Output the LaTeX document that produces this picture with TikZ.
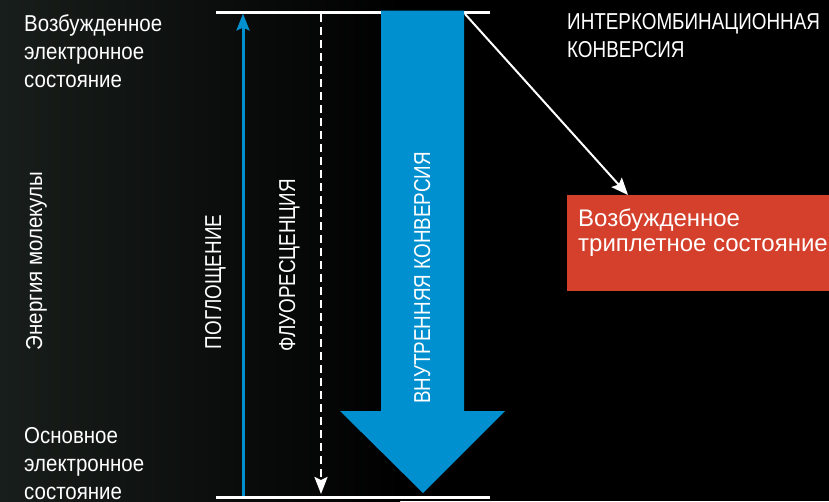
\documentclass[tikz,border=0pt]{standalone}
\usepackage{fontspec}
\setmainfont{Liberation Sans}
\newfontfamily\condfont[FakeStretch=0.82]{Liberation Sans}
\newfontfamily\condlowfont[FakeStretch=0.89]{Liberation Sans}
\usetikzlibrary{arrows.meta}
\definecolor{arrowblue}{RGB}{0,144,208}
\definecolor{tripletred}{RGB}{212,64,43}
\definecolor{bgtint}{RGB}{24,30,27}
\begin{document}
\begin{tikzpicture}[x=1pt,y=-1pt,
  cond/.style={font=\condfont\fontsize{23}{28}\selectfont, text=white, inner sep=0pt},
  condlow/.style={font=\condlowfont\fontsize{23}{28}\selectfont, text=white, inner sep=0pt},
  level/.style={draw=white, line width=3pt},
  absarrow/.style={draw=arrowblue, line width=3pt, -{Stealth[length=17pt,width=13pt,inset=3pt]}},
  fluoarrow/.style={draw=white, line width=2.2pt, dash pattern=on 8pt off 5pt, -{Stealth[length=17pt,width=13pt,inset=3pt]}},
  iscarrow/.style={draw=white, line width=2pt, -{Stealth[length=17pt,width=14pt,inset=3pt]}},
  bigarrow/.style={fill=arrowblue, draw=none},
  redbox/.style={fill=tripletred, text=white, inner sep=0pt, anchor=north west,
    minimum width=264pt, minimum height=96pt,
    font=\fontsize{24}{25}\selectfont}]
\useasboundingbox (0,0) rectangle (829,501);
\fill[black] (0,0) rectangle (829,501);
\shade[left color=bgtint, right color=black] (0,0) rectangle (400,501);

% energy levels
\coordinate (exL) at (216,12);
\coordinate (exR) at (490,12);
\coordinate (grL) at (216,497);
\coordinate (grR) at (490,497);
\draw[level] (exL) -- (exR);
\draw[level] (grL) -- (grR);

% big internal conversion arrow
\fill[bigarrow] (381,10.5) -- (464,10.5) -- (464,411) -- (505,411) -- (423,493)
  -- (340,411) -- (381,411) -- cycle;
\node[cond, rotate=90, anchor=base] (ic) at (430,278) {ВНУТРЕННЯЯ КОНВЕРСИЯ};

% absorption
\coordinate (absS) at (243,496);
\coordinate (absE) at (243,13.5);
\draw[absarrow] (absS) -- (absE);
\node[cond, rotate=90, anchor=base] (absl) at (221,282) {ПОГЛОЩЕНИЕ};

% fluorescence
\coordinate (fluS) at (321,14);
\coordinate (fluE) at (321,494);
\draw[fluoarrow] (fluS) -- (fluE);
\node[cond, rotate=90, anchor=base] (flul) at (295,265) {ФЛУОРЕСЦЕНЦИЯ};

% axis label
\node[condlow, rotate=90, anchor=base] (energy) at (42,261) {Энергия молекулы};

% state labels
\node[condlow, anchor=north west, align=left] (exc) at (24,14) {Возбужденное\\электронное\\состояние};
\node[condlow, anchor=north west, align=left] (gnd) at (24,427) {Основное\\электронное\\состояние};

% intersystem crossing
\node[cond, anchor=north west, align=left] (iscl) at (567,13) {ИНТЕРКОМБИНАЦИОННАЯ\\КОНВЕРСИЯ};
\node[redbox] (trip) at (567,195) {\parbox[c][96pt][t]{264pt}{\vspace*{14pt}\hspace*{11pt}Возбужденное\\\hspace*{11pt}триплетное состояние}};
\coordinate (iscS) at (465,14);
\draw[iscarrow] (iscS) -- (trip.north west -| 628,0);
\end{tikzpicture}
\end{document}
